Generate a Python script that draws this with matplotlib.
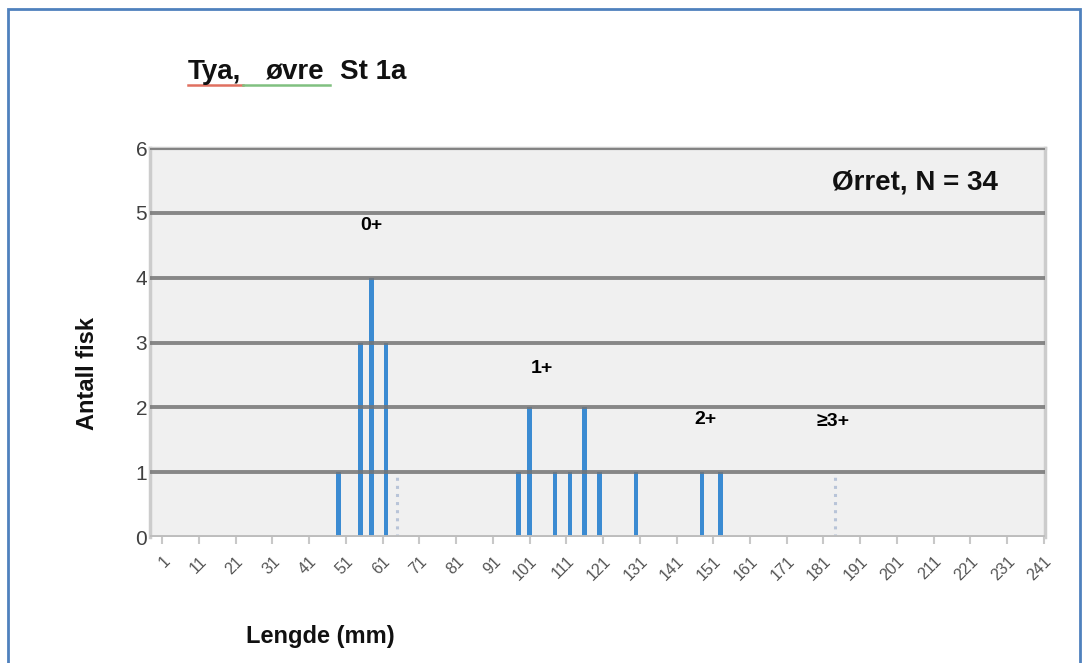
import numpy as np
import matplotlib.pyplot as plt
from matplotlib.patches import Rectangle
from matplotlib.lines import Line2D

plt.rcParams['font.family'] = ['Liberation Sans', 'DejaVu Sans']

# length classes (mm) and number of fish
lengths = [49, 55, 58, 62, 98, 101, 108, 112, 116, 120, 130, 148, 153]
counts = [1, 3, 4, 3, 1, 2, 1, 1, 2, 1, 1, 1, 1]
# age-group boundaries (drawn dotted)
boundaries = [65, 184]
boundary_height = [1, 1]

age_labels = ['0+', '1+', '2+', '≥3+']
age_x = [58, 104.3, 149, 183.5]
age_y = [4.8, 2.6, 1.82, 1.78]

title_words = ['Tya,', 'øvre', 'St 1a']
title_x_px = [188, 266, 340]

xtick_values = list(range(1, 242, 10))
ytick_values = list(range(0, 7))

fig = plt.figure(figsize=(10.88, 6.63), dpi=100)
ax = fig.add_axes([0.1379, 0.19, 0.8226, 0.5867])
ax.set_facecolor('#f0f0f0')

ax.bar(lengths, counts, width=1.2, color='#3b8bd2', zorder=2)
ax.vlines(boundaries, 0, boundary_height, colors='#b8c4d8', linestyles=':', lw=2.2, zorder=2)

# horizontal grid
for y in ytick_values[1:]:
    ax.axhline(y, color='#757575', lw=2.8, alpha=0.85, zorder=3)
ax.axhline(0, color='#bdbdbd', lw=2.8, zorder=3)

ax.set_xlim(-2.3, 241.3)
ax.set_ylim(0, 6)

ax.set_xticks(xtick_values)
ax.set_xticklabels([str(v) for v in xtick_values], rotation=45, ha='right',
                   rotation_mode='anchor', fontsize=11.5, color='#555555')
ax.set_yticks(ytick_values)
ax.set_yticklabels([str(v) for v in ytick_values], fontsize=15, color='#404040')
ax.tick_params(axis='x', length=5, width=1.5, color='#c8c8c8', pad=7)
ax.tick_params(axis='y', length=0, pad=2)

for side in ['left', 'top', 'right']:
    ax.spines[side].set_color('#cccccc')
    ax.spines[side].set_linewidth(2.5)
ax.spines['bottom'].set_visible(False)

for lab, x, y in zip(age_labels, age_x, age_y):
    ax.text(x, y, lab, ha='center', va='center', fontsize=14, fontweight='bold', color='black')

fig.text(998 / 1088, 1 - 183 / 663, 'Ørret, N = 34', ha='right', va='center',
         fontsize=20, fontweight='bold', color='#111111')

for word, xp in zip(title_words, title_x_px):
    fig.text(xp / 1088, 1 - 72 / 663, word, ha='left', va='center',
             fontsize=20, fontweight='bold', color='#111111')
# spell-check underlines under the title
fig.add_artist(Line2D([188 / 1088, 243 / 1088], [1 - 85 / 663] * 2, color='#e07060', lw=1.8))
fig.add_artist(Line2D([243 / 1088, 330 / 1088], [1 - 85 / 663] * 2, color='#80c080', lw=1.8))

fig.text(88 / 1088, 1 - 373 / 663, 'Antall fisk', rotation=90, ha='center', va='center',
         fontsize=17, fontweight='bold', color='#111111')
fig.text(320 / 1088, 1 - 637 / 663, 'Lengde (mm)', ha='center', va='center',
         fontsize=17, fontweight='bold', color='#111111')

# outer frame
fig.add_artist(Rectangle((8 / 1088, -0.05), 1072 / 1088, 1.05 - 9 / 663,
                         transform=fig.transFigure, fill=False, edgecolor='#4f81bd', lw=2))

fig.savefig('out.png', dpi=100)
